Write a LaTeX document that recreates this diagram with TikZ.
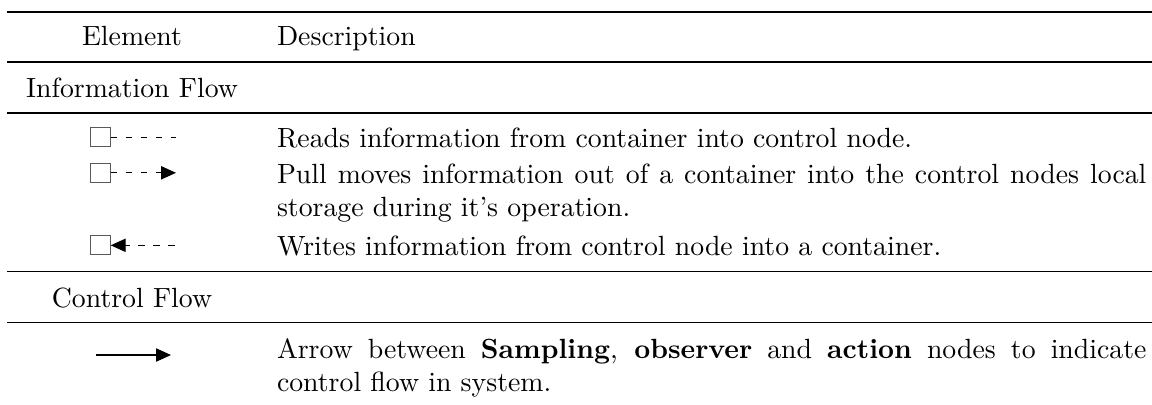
\documentclass[tikz,border=0pt]{standalone}
\usetikzlibrary{arrows.meta}

\tikzset{
  txt/.style={anchor=base west, inner sep=0pt, outer sep=0pt},
  ctxt/.style={anchor=base, inner sep=0pt, outer sep=0pt},
  heavyrule/.style={line width=0.8pt},
  lightrule/.style={line width=0.5pt},
  container/.style={draw=black!65, line width=0.45pt, fill=white, rectangle,
    inner sep=0pt, outer sep=0pt, minimum width=7.2pt, minimum height=6.8pt},
  infoline/.style={line width=0.4pt, dash pattern=on 2.4pt off 3pt},
  ctrlline/.style={line width=0.4pt},
  tip/.style={-{Triangle[length=5.4pt,width=4.8pt]}},
}

\begin{document}
\begin{tikzpicture}[x=0.36pt, y=-0.36pt]
  \useasboundingbox (0,0) rectangle (1152,404);

  % table rules
  \coordinate (rA0) at (7,12);   \coordinate (rA1) at (1152,12);
  \coordinate (rB0) at (7,62);   \coordinate (rB1) at (1152,62);
  \coordinate (rC0) at (7,113);  \coordinate (rC1) at (1152,113);
  \coordinate (rD0) at (7,271.5);\coordinate (rD1) at (1152,271.5);
  \coordinate (rE0) at (7,322.5);\coordinate (rE1) at (1152,322.5);
  \draw[heavyrule] (rA0) -- (rA1);
  \draw[lightrule] (rB0) -- (rB1);
  \draw[lightrule] (rC0) -- (rC1);
  \draw[lightrule] (rD0) -- (rD1);
  \draw[lightrule] (rE0) -- (rE1);

  % header
  \node[ctxt] (hElem) at (132,45) {Element};
  \node[txt]  (hDesc) at (277,45) {Description};

  % section: information flow
  \node[ctxt] (secInfo) at (132,97) {Information Flow};

  % read
  \node[container] (r1box) at (100.7,137.2) {};
  \coordinate (r1end) at (176,137.2);
  \draw[infoline] (r1box.east) -- (r1end);
  \node[txt] (r1txt) at (277,147) {Reads information from container into control node.};

  % pull
  \node[container] (r2box) at (100.7,172.8) {};
  \coordinate (r2end) at (176,172.8);
  \draw[infoline, tip] (r2box.east) -- (r2end);
  \node[txt] (r2txtA) at (277,183)
    {\makebox[313pt][s]{Pull moves information out of a container into the control nodes local}};
  \node[txt] (r2txtB) at (277,216) {storage during it's operation.};

  % write
  \node[container] (r3box) at (100.7,245.3) {};
  \coordinate (r3end) at (175,245.3);
  \draw[infoline, tip] (r3end) -- (r3box.east);
  \node[txt] (r3txt) at (277,255) {Writes information from control node into a container.};

  % section: control flow
  \node[ctxt] (secCtrl) at (132,307) {Control Flow};

  % control arrow
  \coordinate (cf0) at (96,355);
  \coordinate (cf1) at (171,355);
  \draw[ctrlline, tip] (cf0) -- (cf1);
  \node[txt] (r4txtA) at (277,358)
    {\makebox[313pt][s]{Arrow between \textbf{Sampling}, \textbf{observer} and \textbf{action} nodes to indicate}};
  \node[txt] (r4txtB) at (277,391) {control flow in system.};
\end{tikzpicture}
\end{document}
